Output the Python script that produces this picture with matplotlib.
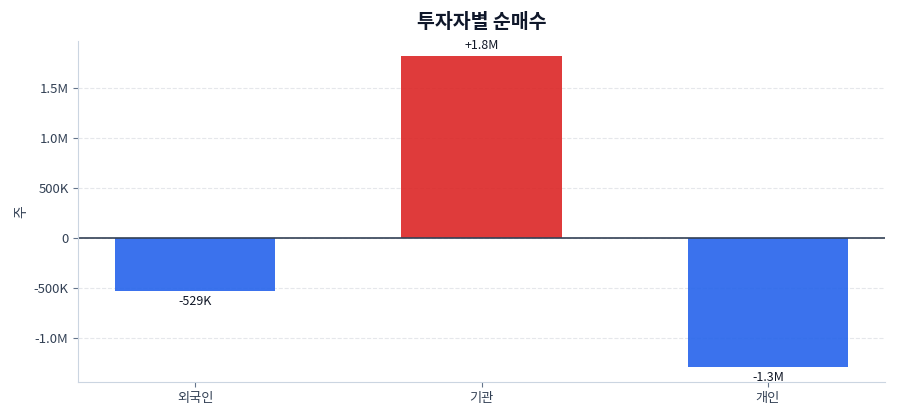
import numpy as np
import matplotlib
matplotlib.use("Agg")
import matplotlib.pyplot as plt
from matplotlib.ticker import FuncFormatter

plt.rcParams['font.family'] = ['Noto Sans CJK KR', 'DejaVu Sans']

investors = ['외국인', '기관', '개인']
net_buy = [-529000, 1815000, -1285000]
value_labels = ['-529K', '+1.8M', '-1.3M']


def fmt_shares(v, pos=None):
    if v == 0:
        return '0'
    if abs(v) >= 1e6:
        return f'{v / 1e6:.1f}M'
    return f'{v / 1e3:.0f}K'


fig, ax = plt.subplots(figsize=(9, 4.2), dpi=100)

colors = ['#dc2626' if v > 0 else '#2563eb' for v in net_buy]
x = np.arange(len(investors))
bars = ax.bar(x, net_buy, width=0.56, color=colors, alpha=0.9)

for b, v, lab in zip(bars, net_buy, value_labels):
    cx = b.get_x() + b.get_width() / 2
    if v >= 0:
        ax.annotate(lab, (cx, v), xytext=(0, 3), textcoords='offset points',
                    ha='center', va='bottom', fontsize=9, color='#111827')
    else:
        ax.annotate(lab, (cx, v), xytext=(0, -3), textcoords='offset points',
                    ha='center', va='top', fontsize=9, color='#111827')

ax.axhline(0, color='#334155', linewidth=1.2)
ax.set_xticks(x)
ax.set_xticklabels(investors)
ax.yaxis.set_major_formatter(FuncFormatter(fmt_shares))
ax.set_ylabel('주', fontsize=10, color='#334155')
ax.set_title('투자자별 순매수', fontsize=14, fontweight='bold', color='#0f172a', pad=9)

ax.grid(axis='y', linestyle='--', color='#e5e7eb', linewidth=0.8)
ax.set_axisbelow(True)
for s in ['top', 'right']:
    ax.spines[s].set_visible(False)
for s in ['left', 'bottom']:
    ax.spines[s].set_color('#cbd5e1')
ax.tick_params(colors='#334155', labelsize=9.5)
ax.tick_params(axis='both', color='#64748b')

fig.subplots_adjust(left=0.087, right=0.983, top=0.903, bottom=0.09)
fig.savefig('out.png', dpi=100)
